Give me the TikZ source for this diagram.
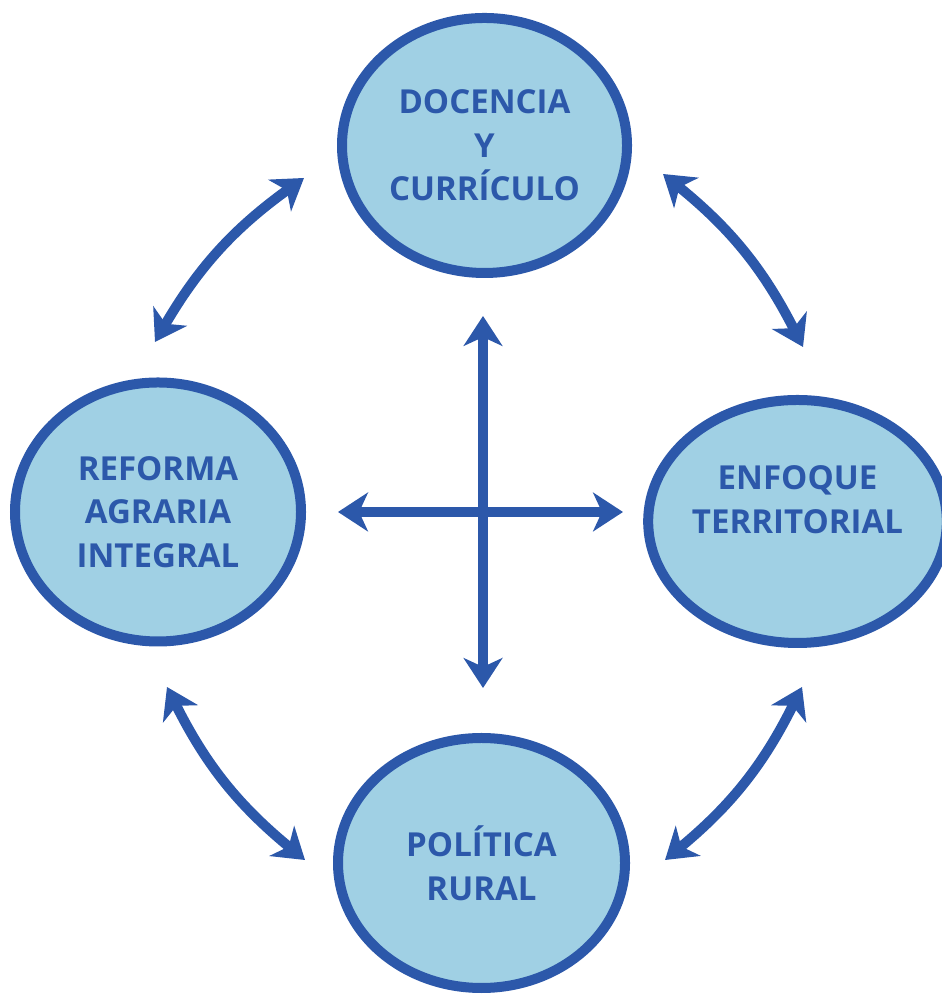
\documentclass[tikz,border=0pt]{standalone}
\usepackage{fontspec}
\setmainfont{Open Sans}
\usetikzlibrary{arrows.meta,shapes.geometric}
\definecolor{azul}{RGB}{44,88,170}
\definecolor{celeste}{RGB}{160,208,228}
\begin{document}
\begin{tikzpicture}[font=\fontsize{9.4}{12.4}\selectfont\bfseries, >={Stealth[length=8.5pt,width=11pt,inset=2.5pt]},
		circ/.style={ellipse, draw=azul, fill=celeste, line width=0.1cm, text=azul, align=center, inner sep=0pt},
		link/.style={<->, azul, line width=0.1cm}]
		\useasboundingbox (0,0) rectangle (9.41,9.94);
		\node[circ, minimum width=2.85cm, minimum height=2.55cm] (doc) at (4.845,8.485) {DOCENCIA\\Y\\CURRÍCULO};
		\node[circ, minimum width=2.73cm, minimum height=2.43cm] (enf) at (7.975,4.725) {ENFOQUE\\TERRITORIAL\\\mbox{}};
		\node[circ, minimum width=2.86cm, minimum height=2.59cm] (ref) at (1.58,4.82) {REFORMA\\AGRARIA\\INTEGRAL};
		\node[circ, minimum width=2.87cm, minimum height=2.50cm] (pol) at (4.815,1.31) {POLÍTICA\\RURAL};
		\coordinate (a1) at (1.55,6.52);
		\coordinate (a2) at (3.04,8.16);
		\coordinate (b1) at (6.63,8.20);
		\coordinate (b2) at (8.03,6.47);
		\coordinate (c1) at (8.02,3.07);
		\coordinate (c2) at (6.65,1.34);
		\coordinate (d1) at (3.05,1.34);
		\coordinate (d2) at (1.67,3.07);
		\draw[link] (a1) to[bend left=12] (a2);
		\draw[link] (b1) to[bend left=12] (b2);
		\draw[link] (c1) to[bend left=12] (c2);
		\draw[link] (d1) to[bend left=12] (d2);
		\coordinate (N) at (4.83,6.78);
		\coordinate (S) at (4.83,3.06);
		\coordinate (W) at (3.38,4.82);
		\coordinate (E) at (6.23,4.82);
		\draw[link] (N)--(S);
		\draw[link] (W)--(E);
	\end{tikzpicture}
\end{document}
